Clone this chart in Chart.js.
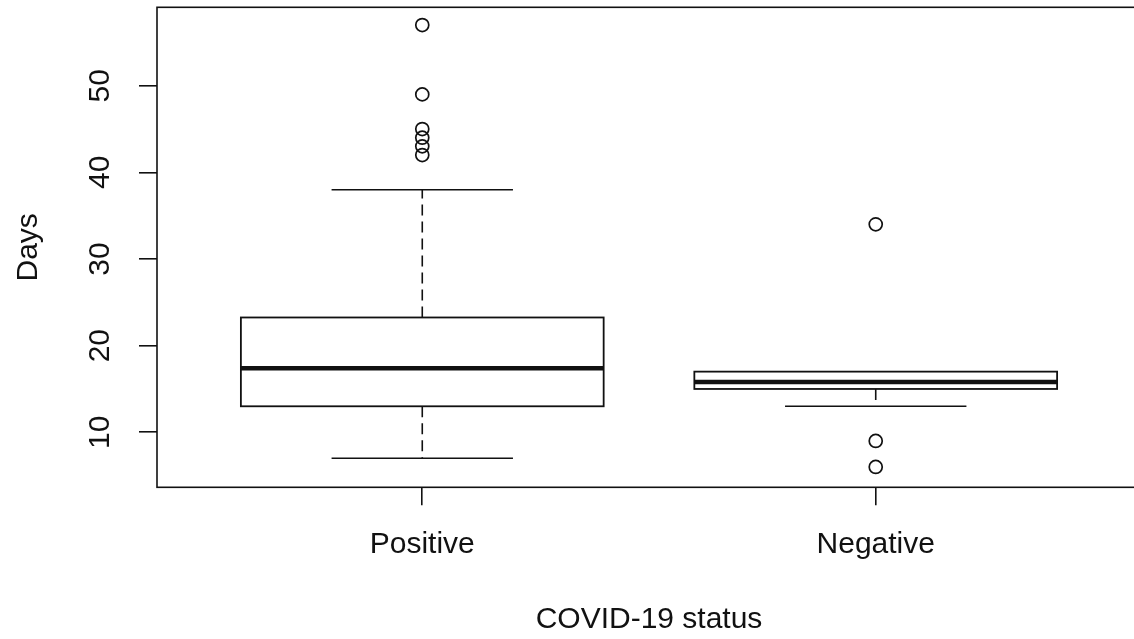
<!DOCTYPE html>
<html>
<head>
<meta charset="utf-8">
<script src="https://cdn.jsdelivr.net/npm/chart.js@4"></script>
<style>
  html, body { margin: 0; padding: 0; background: #fff; overflow: hidden; }
  #wrap { width: 1141px; height: 639px; }
</style>
</head>
<body>
<div id="wrap"><canvas id="boxChart" width="1141" height="639"></canvas></div>
<script>
// groups on the x axis
const categories = ['Positive', 'Negative'];
// five number summary (days)
const lowerWhisker = [7, 13];
const lowerQuartile = [13, 15];
const medians = [17.4, 15.8];
const upperQuartile = [23.25, 17];
const upperWhisker = [38, 17];
// points outside the whiskers
const outliersPositive = [42, 43, 44, 45, 49, 57];
const outliersNegative = [6, 9, 34];
const yTicks = [10, 20, 30, 40, 50];

const ink = '#111';
const font = { family: "'Liberation Sans', Arial, sans-serif", size: 30 };

const outlierPoints = [];
outliersPositive.forEach(v => outlierPoints.push({ x: 1, y: v }));
outliersNegative.forEach(v => outlierPoints.push({ x: 2, y: v }));

// draws the boxes, medians and whiskers with the chart scales
const boxPlugin = {
    id: 'boxes',
    beforeDatasetsDraw(chart) {
        const ctx = chart.ctx;
        const x = chart.scales.x;
        const y = chart.scales.y;
        ctx.save();
        ctx.strokeStyle = ink;
        categories.forEach((c, i) => {
            const cx = x.getPixelForValue(i + 1);
            const bl = x.getPixelForValue(i + 1 - 0.4);
            const br = x.getPixelForValue(i + 1 + 0.4);
            const wl = x.getPixelForValue(i + 1 - 0.2);
            const wr = x.getPixelForValue(i + 1 + 0.2);
            const yQ1 = y.getPixelForValue(lowerQuartile[i]);
            const yQ3 = y.getPixelForValue(upperQuartile[i]);
            const yMed = y.getPixelForValue(medians[i]);
            const yLo = y.getPixelForValue(lowerWhisker[i]);
            const yHi = y.getPixelForValue(upperWhisker[i]);

            // dashed whiskers
            ctx.lineWidth = 1.6;
            ctx.setLineDash([11, 6]);
            ctx.beginPath();
            ctx.moveTo(cx, yQ3); ctx.lineTo(cx, yHi);
            ctx.moveTo(cx, yQ1); ctx.lineTo(cx, yLo);
            ctx.stroke();
            ctx.setLineDash([]);

            // whisker caps
            ctx.beginPath();
            if (upperWhisker[i] > upperQuartile[i]) { ctx.moveTo(wl, yHi); ctx.lineTo(wr, yHi); }
            if (lowerWhisker[i] < lowerQuartile[i]) { ctx.moveTo(wl, yLo); ctx.lineTo(wr, yLo); }
            ctx.stroke();

            // box
            ctx.fillStyle = '#fff';
            ctx.fillRect(bl, yQ3, br - bl, yQ1 - yQ3);
            ctx.lineWidth = 1.8;
            ctx.strokeRect(bl, yQ3, br - bl, yQ1 - yQ3);

            // median
            ctx.lineWidth = 4.5;
            ctx.beginPath();
            ctx.moveTo(bl, yMed); ctx.lineTo(br, yMed);
            ctx.stroke();
        });
        ctx.restore();
    },
    afterDraw(chart) {
        // frame round the plot region
        const a = chart.chartArea;
        const ctx = chart.ctx;
        ctx.save();
        ctx.strokeStyle = ink;
        ctx.lineWidth = 1.6;
        ctx.strokeRect(a.left, a.top, a.right - a.left, a.bottom - a.top);
        ctx.restore();
    }
};

function noPad(scale) {
    scale.paddingTop = 0;
    scale.paddingBottom = 0;
    scale.paddingLeft = 0;
    scale.paddingRight = 0;
}

const ctx = document.getElementById('boxChart').getContext('2d');
const boxChart = new Chart(ctx, {
    type: 'scatter',
    data: {
        datasets: [{
            label: 'outliers',
            data: outlierPoints,
            pointRadius: 6.5,
            pointHoverRadius: 6.5,
            borderWidth: 1.7,
            borderColor: ink,
            backgroundColor: 'rgba(255,255,255,0)',
            clip: false
        }]
    },
    options: {
        responsive: false,
        animation: false,
        devicePixelRatio: 1,
        layout: { autoPadding: false, padding: { top: 7.3, left: 0, right: 0, bottom: 0 } },
        plugins: {
            legend: { display: false },
            tooltip: { enabled: false }
        },
        scales: {
            x: {
                type: 'linear',
                min: 0.415,
                max: 2.585,
                afterBuildTicks: scale => { scale.ticks = categories.map((c, i) => ({ value: i + 1 })); },
                afterFit: scale => { scale.height = 151.7; noPad(scale); },
                border: { display: false },
                grid: { drawOnChartArea: false, drawTicks: true, tickLength: 18, color: ink, lineWidth: 1.6 },
                ticks: {
                    color: ink,
                    font: font,
                    padding: 21,
                    maxRotation: 0,
                    autoSkip: false,
                    callback: v => categories[v - 1]
                },
                title: {
                    display: true,
                    text: 'COVID-19 status',
                    color: ink,
                    font: font,
                    padding: { top: 0, bottom: 1 }
                }
            },
            y: {
                min: 3.65,
                max: 59.05,
                afterBuildTicks: scale => { scale.ticks = yTicks.map(v => ({ value: v })); },
                afterFit: scale => { scale.width = 157; noPad(scale); },
                border: { display: false },
                grid: { drawOnChartArea: false, drawTicks: true, tickLength: 18, color: ink, lineWidth: 1.6 },
                ticks: {
                    color: ink,
                    font: font,
                    padding: 22,
                    minRotation: 90,
                    maxRotation: 90,
                    crossAlign: 'center'
                },
                title: {
                    display: true,
                    text: 'Days',
                    color: ink,
                    font: font,
                    padding: { top: 11, bottom: 0 }
                }
            }
        }
    },
    plugins: [boxPlugin]
});
</script>
</body>
</html>
